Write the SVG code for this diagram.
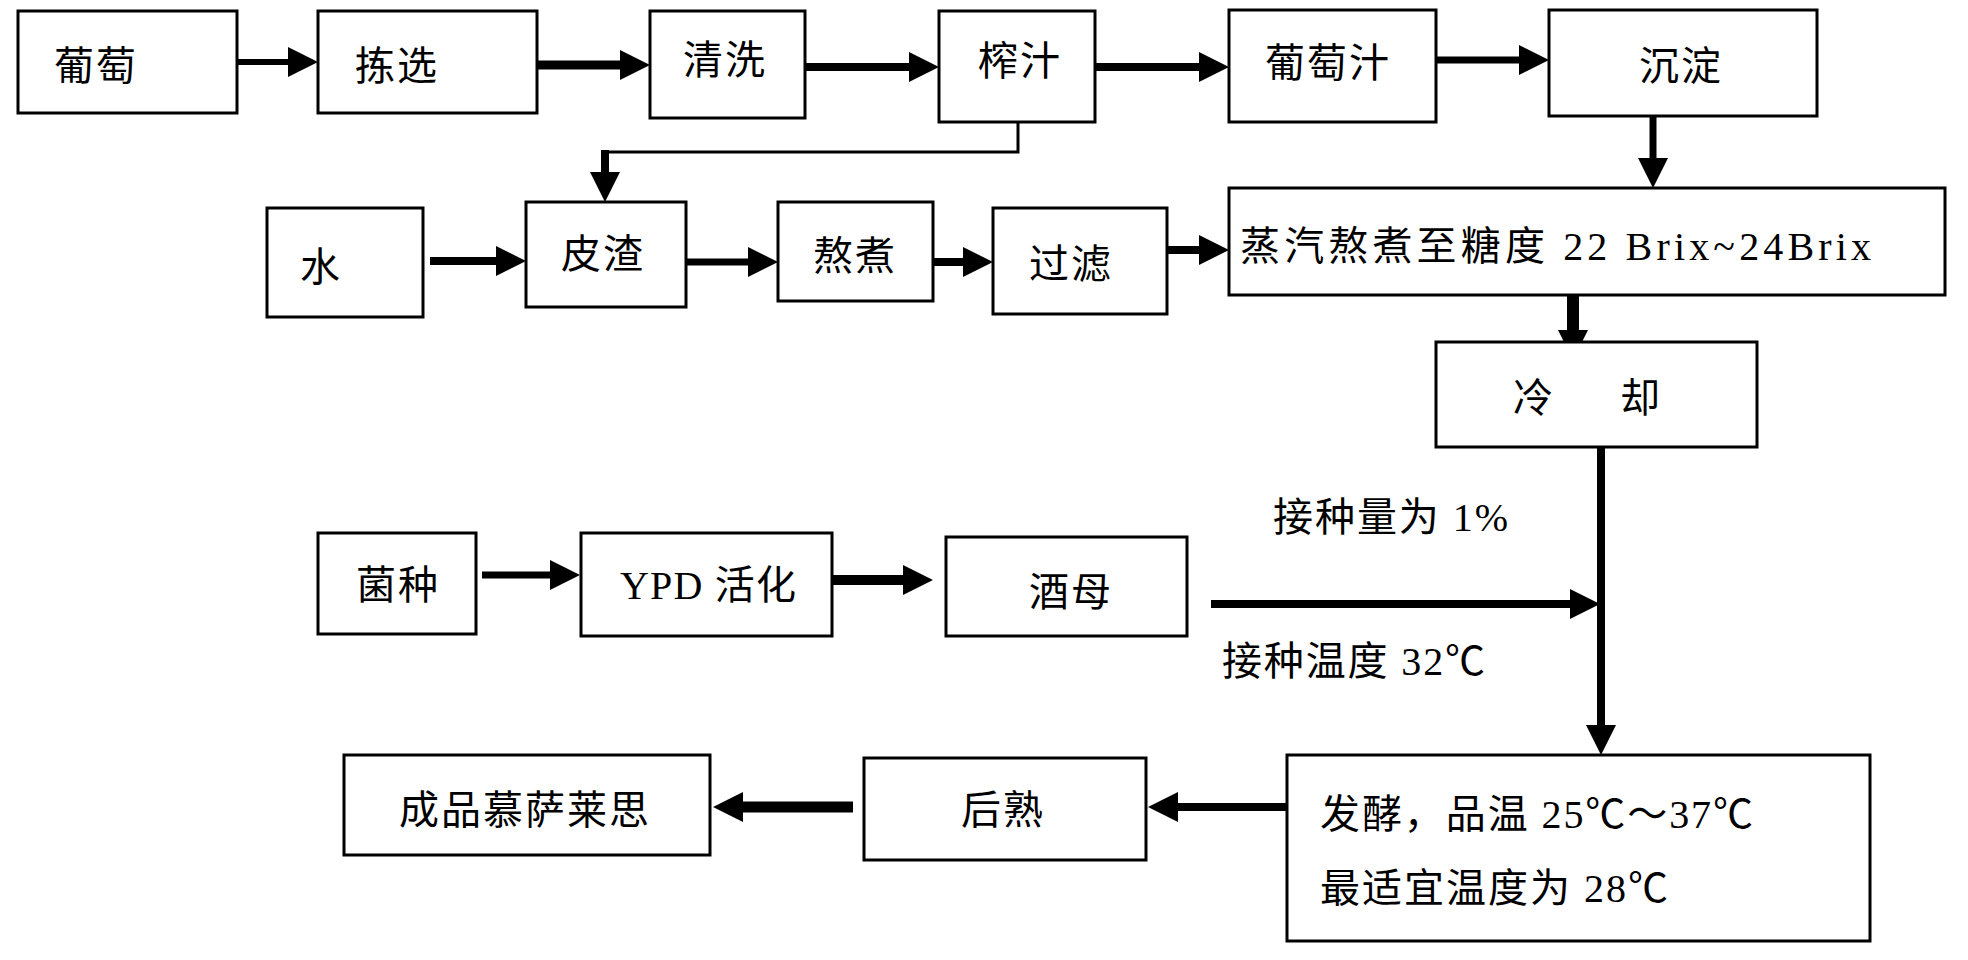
<svg xmlns="http://www.w3.org/2000/svg" width="1968" height="960" viewBox="0 0 1968 960">
<style>
.box{fill:#fff;stroke:#000;stroke-width:3}
.t{font-family:"Noto Sans CJK SC","Liberation Sans",sans-serif;font-size:40px;letter-spacing:2px;fill:#000}
.m{font-family:"Liberation Serif","Noto Sans CJK SC",serif;font-size:40px;fill:#000}
.c{fill:none;stroke:#000;stroke-linecap:butt}
</style>
<defs>
<marker id="ah" viewBox="0 0 30 30" refX="2" refY="15" markerWidth="30" markerHeight="30" markerUnits="userSpaceOnUse" orient="auto">
<path d="M0,0 L30,15 L0,30 z" fill="#000"/>
</marker>
</defs>
<rect width="1968" height="960" fill="#fff"/>
<g id="connectors">
<line class="c" x1="237" y1="62" x2="290" y2="62" stroke-width="6" marker-end="url(#ah)"/>
<line class="c" x1="537" y1="65" x2="622" y2="65" stroke-width="9" marker-end="url(#ah)"/>
<line class="c" x1="805" y1="67" x2="911" y2="67" stroke-width="8" marker-end="url(#ah)"/>
<line class="c" x1="1095" y1="67" x2="1201" y2="67" stroke-width="8" marker-end="url(#ah)"/>
<line class="c" x1="1436" y1="60" x2="1521" y2="60" stroke-width="7" marker-end="url(#ah)"/>
<polyline class="c" points="1018,122 1018,152 603,152" stroke-width="3"/>
<line class="c" x1="605" y1="150" x2="605" y2="174" stroke-width="8" marker-end="url(#ah)"/>
<line class="c" x1="1653" y1="116" x2="1653" y2="160" stroke-width="7" marker-end="url(#ah)"/>
<line class="c" x1="430" y1="261" x2="498" y2="261" stroke-width="8" marker-end="url(#ah)"/>
<line class="c" x1="686" y1="262" x2="750" y2="262" stroke-width="7" marker-end="url(#ah)"/>
<line class="c" x1="933" y1="262" x2="965" y2="262" stroke-width="8" marker-end="url(#ah)"/>
<line class="c" x1="1167" y1="250" x2="1201" y2="250" stroke-width="8" marker-end="url(#ah)"/>
<line class="c" x1="1573" y1="295" x2="1573" y2="332" stroke-width="12" marker-end="url(#ah)"/>
<line class="c" x1="1601" y1="447" x2="1601" y2="727" stroke-width="8" marker-end="url(#ah)"/>
<line class="c" x1="1211" y1="604" x2="1572" y2="604" stroke-width="8" marker-end="url(#ah)"/>
<line class="c" x1="482" y1="575" x2="552" y2="575" stroke-width="7" marker-end="url(#ah)"/>
<line class="c" x1="832" y1="580" x2="905" y2="580" stroke-width="10" marker-end="url(#ah)"/>
<line class="c" x1="1287" y1="807" x2="1176" y2="807" stroke-width="8" marker-end="url(#ah)"/>
<line class="c" x1="853" y1="807" x2="741" y2="807" stroke-width="11" marker-end="url(#ah)"/>
</g>
<g id="n-putao"><rect class="box" x="18" y="11" width="219" height="102"/><text class="t" x="54" y="80">葡萄</text></g>
<g id="n-jianxuan"><rect class="box" x="318" y="11" width="219" height="102"/><text class="t" x="355" y="80">拣选</text></g>
<g id="n-qingxi"><rect class="box" x="650" y="11" width="155" height="107"/><text class="t" x="683" y="74">清洗</text></g>
<g id="n-zhazhi"><rect class="box" x="939" y="11" width="156" height="111"/><text class="t" x="978" y="75">榨汁</text></g>
<g id="n-putaozhi"><rect class="box" x="1229" y="10" width="207" height="112"/><text class="t" x="1265" y="77">葡萄汁</text></g>
<g id="n-chendian"><rect class="box" x="1549" y="10" width="268" height="106"/><text class="t" x="1639" y="80">沉淀</text></g>
<g id="n-shui"><rect class="box" x="267" y="208" width="156" height="109"/><text class="t" x="300" y="281">水</text></g>
<g id="n-pizha"><rect class="box" x="526" y="202" width="160" height="105"/><text class="t" x="561" y="268">皮渣</text></g>
<g id="n-aozhu"><rect class="box" x="778" y="202" width="155" height="99"/><text class="t" x="813" y="270">熬煮</text></g>
<g id="n-guolv"><rect class="box" x="993" y="208" width="174" height="106"/><text class="t" x="1029" y="278">过滤</text></g>
<g id="n-zhengqi"><rect class="box" x="1229" y="188" width="716" height="107"/><text class="m" x="1240" y="260" textLength="631" lengthAdjust="spacing">蒸汽熬煮至糖度 22 Brix~24Brix</text></g>
<g id="n-lengque"><rect class="box" x="1436" y="342" width="321" height="105"/><text class="t" y="412"><tspan x="1513">冷</tspan><tspan x="1620">却</tspan></text></g>
<g id="n-junzhong"><rect class="box" x="318" y="533" width="158" height="101"/><text class="t" x="356" y="599">菌种</text></g>
<g id="n-ypd"><rect class="box" x="581" y="533" width="251" height="103"/><text class="m" x="620" y="599" textLength="176" lengthAdjust="spacing">YPD 活化</text></g>
<g id="n-jiumu"><rect class="box" x="946" y="537" width="241" height="99"/><text class="t" x="1029" y="606">酒母</text></g>
<g id="n-chengpin"><rect class="box" x="344" y="755" width="366" height="100"/><text class="t" x="399" y="824">成品慕萨莱思</text></g>
<g id="n-houshu"><rect class="box" x="864" y="758" width="282" height="102"/><text class="t" x="961" y="824">后熟</text></g>
<g id="n-fajiao"><rect class="box" x="1287" y="755" width="583" height="186"/><text class="m" x="1320" y="828" textLength="433" lengthAdjust="spacing">发酵，品温 25℃～37℃</text><text class="m" x="1320" y="902" textLength="348" lengthAdjust="spacing">最适宜温度为 28℃</text></g>
<g id="labels"><text class="m" x="1273" y="531" textLength="235" lengthAdjust="spacing">接种量为 1%</text><text class="m" x="1222" y="675" textLength="263" lengthAdjust="spacing">接种温度 32℃</text></g>
</svg>
